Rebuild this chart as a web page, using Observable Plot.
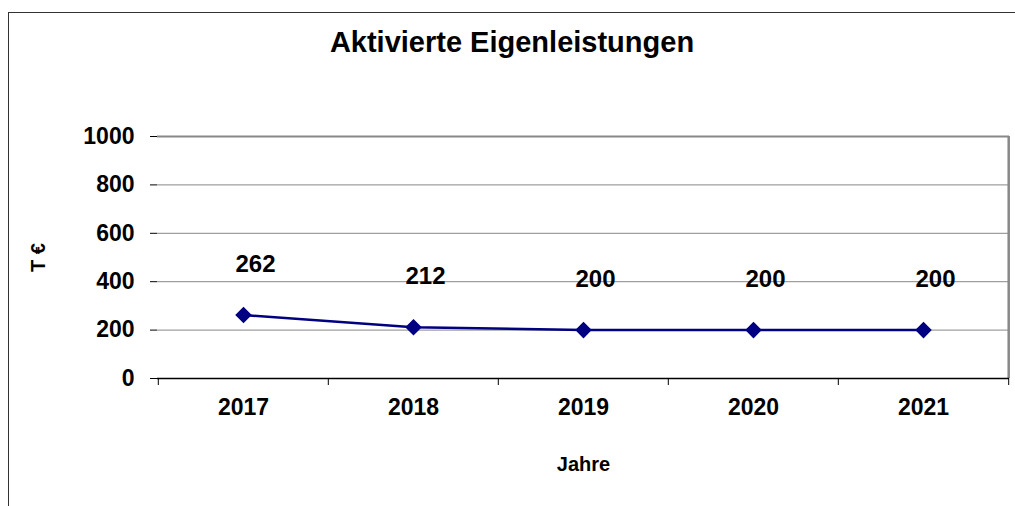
<!DOCTYPE html>
<html><head><meta charset="utf-8">
<script src="https://cdn.jsdelivr.net/npm/d3@7"></script>
<script src="https://cdn.jsdelivr.net/npm/@observablehq/plot@0.6"></script>
<style>
html,body{margin:0;padding:0;background:#fff;}
#wrap{position:relative;width:1015px;height:506px;overflow:hidden;font-family:"Liberation Sans",Arial,sans-serif;}
#frame{position:absolute;left:8px;top:12px;width:1020px;height:510px;border-left:1.5px solid #333;border-top:1.5px solid #333;}
#title{position:absolute;left:0;width:1024px;top:26px;text-align:center;font-weight:bold;font-size:29px;color:#000;line-height:33px;}
#chart{position:absolute;left:0;top:0;}
</style></head>
<body><div id="wrap"><div id="frame"></div><div id="title">Aktivierte Eigenleistungen</div><div id="chart"></div></div>
<script>
const years = ["2017","2018","2019","2020","2021"];
const values = [262, 212, 200, 200, 200];
const yTicks = [0, 200, 400, 600, 800, 1000];
const data = years.map((y, i) => ({year: y, value: values[i]}));

const plot = Plot.plot({
  width: 1015,
  height: 506,
  marginLeft: 157,
  marginRight: 6,
  marginTop: 136,
  marginBottom: 128,
  style: {fontFamily: '"Liberation Sans", Arial, sans-serif', fontWeight: "bold", fontSize: "23px", color: "#000", background: "transparent"},
  x: {type: "band", domain: years, padding: 0},
  y: {domain: [0, 1000], ticks: yTicks},
  marks: [
    Plot.gridY(yTicks, {stroke: "#888", strokeOpacity: 1, strokeWidth: 1}),
    Plot.ruleY([1000], {stroke: "#888", strokeWidth: 2}),
    Plot.ruleX([years[years.length - 1]], {stroke: "#888", strokeWidth: 2.5, dx: 85.2, y1: 1000, y2: 0}),
    Plot.axisY(yTicks, {label: null, tickSize: 7, tickPadding: 16, fontSize: 23, tickFormat: d => String(d)}),
    Plot.axisY({label: "T €", labelAnchor: "center", labelArrow: "none", labelOffset: 127, ticks: [], fontSize: 20}),
    Plot.axisX({label: null, tickSize: 0, tickPadding: 20, fontSize: 23}),
    Plot.axisX({label: "Jahre", labelAnchor: "center", labelArrow: "none", labelOffset: 92, ticks: [], fontSize: 20}),
    Plot.axisX(years, {tickSize: 7, text: null, label: null, dx: -85.2, stroke: "#000"}),
    Plot.axisX([years[years.length - 1]], {tickSize: 7, text: null, label: null, dx: 85.2, stroke: "#000"}),
    Plot.ruleY([0], {stroke: "#000", strokeWidth: 1.5}),
    Plot.ruleX([0], {stroke: "#000", strokeWidth: 1.5}),
    Plot.line(data, {x: "year", y: "value", stroke: "#000080", strokeWidth: 2.5}),
    Plot.dot(data, {x: "year", y: "value", symbol: "diamond2", r: 6.5, fill: "#000080", stroke: "#000080"}),
    Plot.text(data, {x: "year", y: "value", text: d => String(d.value), dx: 12, dy: -51, fontSize: 24, fontWeight: "bold", fill: "#000"})
  ]
});
document.getElementById("chart").appendChild(plot);
</script>
</body></html>
